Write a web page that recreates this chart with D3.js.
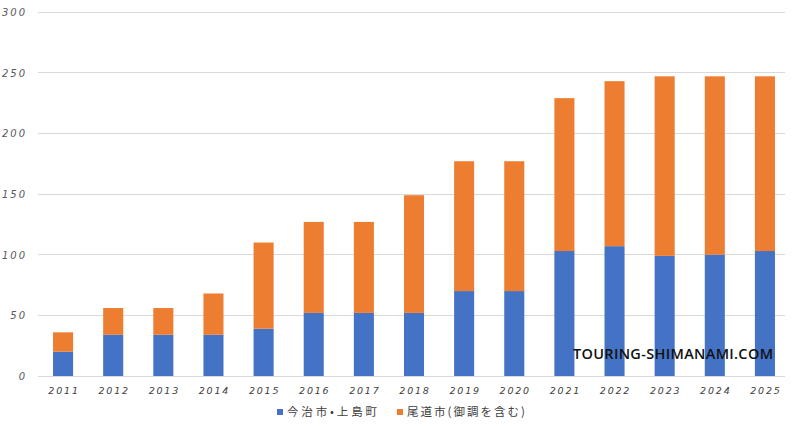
<!DOCTYPE html>
<html><head><meta charset="utf-8">
<script src="https://cdn.jsdelivr.net/npm/d3@7"></script>
<style>body{margin:0;background:#fff;}svg{display:block;}</style>
</head><body>
<svg id="c" width="800" height="428"></svg>
<script>
const years = ["2011","2012","2013","2014","2015","2016","2017","2018","2019","2020","2021","2022","2023","2024","2025"];
const imabari = [20,34,34,34,39,52,52,52,70,70,103,107,99,100,103];
const onomichi = [16,22,22,34,71,75,75,97,107,107,126,136,148,147,144];
const seriesNames = ["今治市•上島町","尾道市(御調を含む)"];
const yTicks = [0,50,100,150,200,250,300];
const colors = ["#4472C4","#ED7D31"];

const svg = d3.select("#c");
const x = d3.scaleBand().domain(years).range([38,790]).paddingInner(0.6).paddingOuter(0.3);
const y = d3.scaleLinear().domain([0,300]).range([376,12]);

// gridlines
svg.append("g").selectAll("line").data(yTicks).join("line")
  .attr("x1",38).attr("x2",785).attr("y1",d=>y(d)).attr("y2",d=>y(d))
  .attr("stroke","#d9d9d9").attr("stroke-width",1).attr("shape-rendering","crispEdges");

const data = years.map((yr,i)=>({year:yr, a:imabari[i], b:onomichi[i]}));
const stack = d3.stack().keys(["a","b"])(data);
svg.append("g").selectAll("g").data(stack).join("g").attr("fill",(d,i)=>colors[i])
  .selectAll("rect").data(d=>d).join("rect")
  .attr("x",d=>x(d.data.year)).attr("width",x.bandwidth())
  .attr("y",d=>y(d[1])).attr("height",d=>y(d[0])-y(d[1]));

// y labels
svg.append("g").selectAll("text").data(yTicks).join("text")
  .attr("x",27).attr("y",d=>y(d)+4).attr("text-anchor","end")
  .attr("font-family","DejaVu Sans, sans-serif").attr("font-style","italic")
  .attr("font-size",10).attr("letter-spacing","2px").attr("fill","#595959")
  .text(d=>d);

// x labels
svg.append("g").selectAll("text").data(years).join("text")
  .attr("x",d=>x(d)+x.bandwidth()/2+1).attr("y",394).attr("text-anchor","middle")
  .attr("font-family","DejaVu Sans, sans-serif").attr("font-style","italic")
  .attr("font-size",9.5).attr("letter-spacing","1.8px").attr("fill","#404040")
  .text(d=>d);

// legend
const leg = svg.append("g");
const lx = [277,397];
const lw = [90,118];
seriesNames.forEach((n,i)=>{
  leg.append("rect").attr("x",lx[i]).attr("y",409).attr("width",6).attr("height",6).attr("fill",colors[i]);
  leg.append("text").attr("x",lx[i]+10).attr("y",416)
    .attr("font-family","Noto Sans CJK JP, sans-serif").attr("font-size",11.5)
    .attr("textLength",lw[i]).attr("lengthAdjust","spacing")
    .attr("fill","#404040").text(n);
});

// watermark
svg.append("text").attr("x",573).attr("y",359)
  .attr("font-family","Open Sans, sans-serif").attr("font-size",14.5).attr("font-weight",600)
  .attr("textLength",200).attr("lengthAdjust","spacing")
  .attr("fill","#111").text("TOURING-SHIMANAMI.COM");
</script>
</body></html>
